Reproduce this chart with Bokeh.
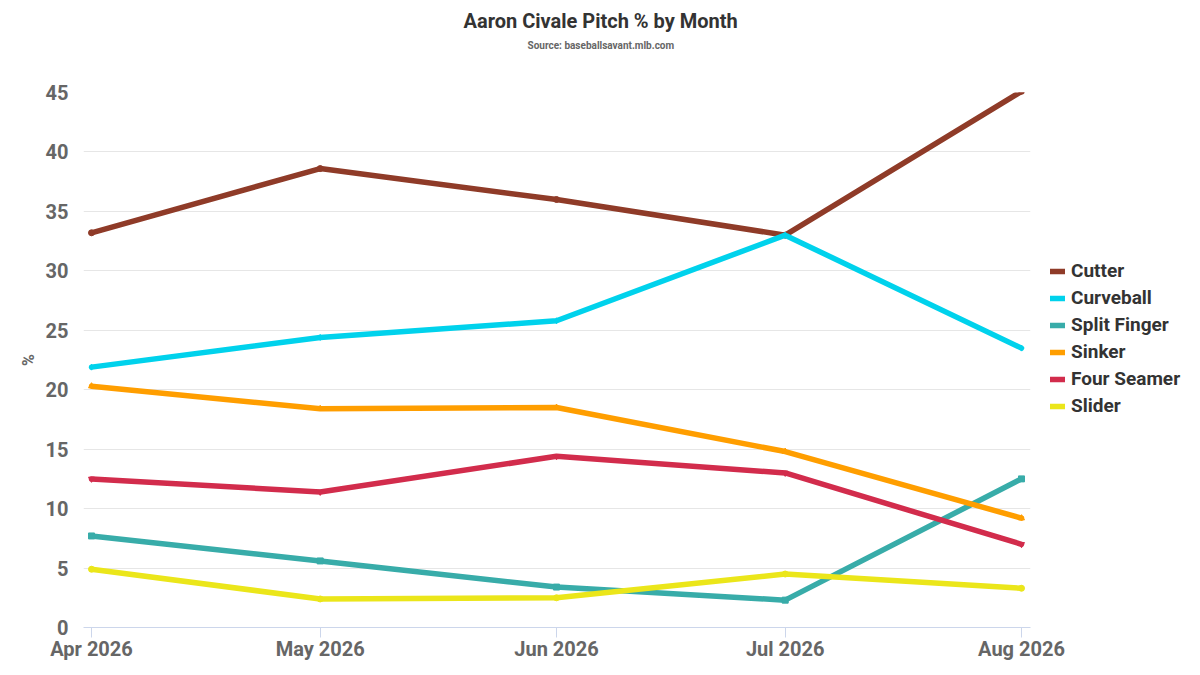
from datetime import datetime, timedelta
from bokeh.plotting import figure
from bokeh.models import (Range1d, FixedTicker, DatetimeTickFormatter, Legend, LegendItem,
                          Title, ColumnDataSource)
from bokeh.embed import file_html
from bokeh.resources import INLINE

months = ["2026-04-01", "2026-05-01", "2026-06-01", "2026-07-01", "2026-08-01"]
series_names = ["Cutter", "Curveball", "Split Finger", "Sinker", "Four Seamer", "Slider"]
cutter = [33.2, 38.6, 36.0, 33.0, 45.1]
curveball = [21.9, 24.4, 25.8, 33.0, 23.5]
split_finger = [7.7, 5.6, 3.4, 2.3, 12.5]
sinker = [20.3, 18.4, 18.5, 14.8, 9.2]
four_seamer = [12.5, 11.4, 14.4, 13.0, 7.0]
slider = [4.9, 2.4, 2.5, 4.5, 3.3]
colors = ["#8f3b28", "#00d2ec", "#38aca9", "#ff9e00", "#d22c4c", "#ebe61a"]
markers = ["circle", "diamond", "square", "triangle", "inverted_triangle", "circle"]
y_ticks = [0, 5, 10, 15, 20, 25, 30, 35, 40, 45]

dates = [datetime.strptime(m, "%Y-%m-%d") for m in months]
values = [cutter, curveball, split_finger, sinker, four_seamer, slider]

FONT = "Roboto"

p = figure(frame_width=947, frame_height=535, x_axis_type="datetime", output_backend="svg",
           toolbar_location=None, title=None, min_border_left=83, min_border_right=154,
           min_border_top=92, min_border_bottom=40)
p.x_range = Range1d(dates[0] - timedelta(days=1.05), dates[-1] + timedelta(days=1.18))
p.y_range = Range1d(0, 45)
p.outline_line_color = None
p.background_fill_color = "white"
p.border_fill_color = "white"

items = []
for name, vals, col, mk in zip(series_names, values, colors, markers):
    src = ColumnDataSource(dict(x=dates, y=vals))
    r = p.line("x", "y", source=src, line_color=col, line_width=5.5,
               line_cap="round", line_join="round")
    p.scatter("x", "y", source=src, marker=mk, size=6, fill_color=col, line_color=col)
    items.append(LegendItem(label=name, renderers=[r]))

# axes
p.xaxis.ticker = FixedTicker(ticks=[d.timestamp() * 1000 for d in dates])
p.xaxis.formatter = DatetimeTickFormatter(days="%b %Y", months="%b %Y", years="%b %Y")
p.xaxis.axis_line_color = "#ccd6eb"
p.xaxis.major_tick_line_color = "#ccd6eb"
p.xaxis.major_tick_out = 10
p.xaxis.major_tick_in = 0
p.xaxis.minor_tick_line_color = None
p.xaxis.major_label_text_font = FONT
p.xaxis.major_label_text_font_style = "bold"
p.xaxis.major_label_text_font_size = "20px"
p.xaxis.major_label_text_color = "#666666"
p.xaxis.major_label_standoff = -1

p.yaxis.ticker = FixedTicker(ticks=y_ticks)
p.yaxis.axis_line_color = None
p.yaxis.major_tick_line_color = None
p.yaxis.minor_tick_line_color = None
p.yaxis.major_label_text_font = FONT
p.yaxis.major_label_text_font_style = "bold"
p.yaxis.major_label_text_font_size = "20px"
p.yaxis.major_label_text_color = "#666666"
p.yaxis.major_label_standoff = 9
p.yaxis.axis_label = "%"
p.yaxis.axis_label_text_font = FONT
p.yaxis.axis_label_text_font_style = "bold"
p.yaxis.axis_label_text_font_size = "16px"
p.yaxis.axis_label_text_color = "#666666"
p.yaxis.axis_label_standoff = 5

p.xgrid.grid_line_color = None
p.ygrid.grid_line_color = "#e6e6e6"
p.ygrid.grid_line_width = 1

legend = Legend(items=items, location=(20, 210), orientation="vertical",
                label_text_font=FONT, label_text_font_style="bold",
                label_text_font_size="19px", label_text_color="#333333",
                glyph_width=15, glyph_height=14, label_height=20, spacing=4,
                label_standoff=6, padding=0, margin=0,
                border_line_color=None, background_fill_alpha=0)
p.add_layout(legend, "right")

spacer = Title(text=" ", align="left", text_font=FONT, text_font_size="11px", standoff=26)
sub = Title(text="Source: baseballsavant.mlb.com", align="left", offset=444,
            text_font=FONT, text_font_style="bold", text_font_size="10px",
            text_color="#666666", standoff=2)
title = Title(text="Aaron Civale Pitch % by Month", align="left", offset=380,
              text_font=FONT, text_font_style="bold", text_font_size="20px",
              text_color="#333333", standoff=8)
p.add_layout(spacer, "above")
p.add_layout(sub, "above")
p.add_layout(title, "above")

open("out.html", "w").write(file_html(p, INLINE))
